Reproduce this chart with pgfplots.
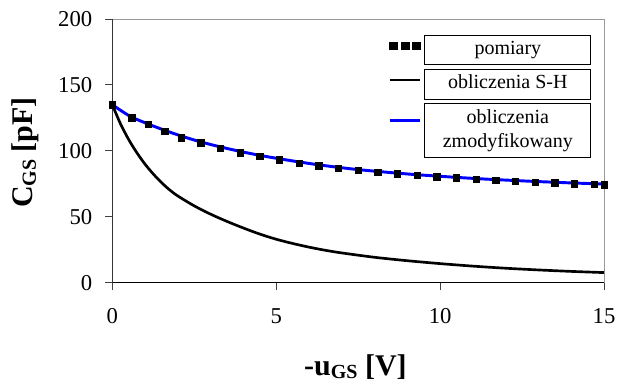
\documentclass[border=0pt]{standalone}
\usepackage{pgfplots}
\pgfplotsset{compat=1.18}
\usepackage{fontspec}
\setmainfont{Liberation Serif}

\newcommand\lbox[1]{{\setlength\fboxsep{1.8pt}\setlength\fboxrule{0.75pt}\fbox{\parbox[c]{120pt}{\centering\strut #1\strut}}}}
\newcommand\sub[1]{\raisebox{-2.2pt}{\fontsize{15}{18}\selectfont #1}}

\pgfplotstableread{
x y
0 135
0.6 125
1.1 120
1.6 115
2.1 110
2.7 106
3.3 102
3.9 98.5
4.5 96
5.1 93.2
5.7 90.8
6.3 88.7
6.9 86.8
7.5 85.3
8.1 83.9
8.7 82.7
9.3 81.5
9.9 80.4
10.5 79.5
11.1 78.4
11.7 77.6
12.3 76.8
12.9 76.2
13.5 75.7
14.1 75.2
14.7 74.6
15 74.4
}\pomiary

\pgfplotstableread{
x y
0 135
0.25 120.6
0.5 108.6
0.75 98.6
1.0 89.9
1.25 82.5
1.5 76.0
1.75 70.4
2.0 65.8
2.5 58.3
3.0 52.0
3.5 46.5
4.0 41.5
4.5 36.9
5.0 33.0
5.5 29.8
6.0 27.0
6.5 24.6
7.0 22.6
8.0 19.3
9.0 16.7
10 14.5
11 12.6
12 11.0
13 9.7
14 8.6
15 7.7
}\sh

\pgfplotstableread{
x y
0 135
0.3 130
0.6 125.5
1.1 120.3
1.6 115.6
2.1 111.3
2.7 106.8
3.3 103
3.9 99.6
4.5 96.6
5.1 94
5.7 91.6
6.3 89.4
6.9 87.5
7.5 85.8
8.1 84.4
8.7 83.1
9.3 81.9
9.9 80.9
10.5 79.9
11.1 79
11.7 78.2
12.3 77.5
12.9 76.8
13.5 76.2
14.1 75.6
14.7 75.1
15 74.9
}\zmod

\begin{document}
\begin{tikzpicture}
\useasboundingbox (0pt,0pt) rectangle (466.5pt,287.25pt);
\begin{axis}[
  at={(84.2pt,75.2pt)}, anchor=south west,
  scale only axis, width=368.8pt, height=197.8pt,
  xmin=0, xmax=15, ymin=0, ymax=200,
  xtick={0,5,10,15}, ytick={0,50,100,150,200},
  axis line style={draw=black!40, line width=0.75pt},
  tick pos=left, tick align=outside,
  major tick length=5.5pt,
  tick style={draw=black!75, line width=0.75pt},
  /pgf/number format/assume math mode=true,
  tick label style={font=\fontsize{17}{20}\selectfont},
  xticklabel style={yshift=-10.5pt},
  yticklabel style={xshift=-6pt},
  xlabel={\bfseries -u\sub{GS} [V]},
  ylabel={\bfseries C\sub{GS} [pF]},
  label style={font=\fontsize{22.5}{26}\selectfont},
  x label style={at={(axis description cs:0.4946,-0.352)}, anchor=base},
  y label style={at={(axis description cs:-0.1613,0.4937)}, anchor=base},
  legend style={draw=none, fill=none, at={(axis description cs:0.98,0.952)}, anchor=north east,
    inner sep=0pt, row sep=5pt, font=\fontsize{15}{18}\selectfont, column sep=0pt},
  legend cell align=center,
  legend image code/.code={\draw[#1] (0pt,0pt) -- (23pt,0pt);},
]
\addplot[only marks, mark=square*, mark size=2.4pt, black,
  legend image code/.code={\foreach \xx in {0,8.4,16.8}{\fill[black] (\xx pt,-2.5pt) rectangle ++(6pt,5pt);}}]
  table {\pomiary};
\addlegendentry{\lbox{pomiary}}
\addplot[black, line width=2pt, smooth] table {\sh};
\addlegendentry{\lbox{obliczenia S-H}}
\addplot[blue, line width=2.2pt, smooth] table {\zmod};
\addlegendentry{\lbox{obliczenia\\zmodyfikowany}}
\addplot[only marks, mark=square*, mark size=2.4pt, black, forget plot] table {\pomiary};
\draw[black, line width=0.9pt] (rel axis cs:0,1) -- (rel axis cs:0,0) -- (rel axis cs:1,0);
\end{axis}
\end{tikzpicture}
\end{document}
